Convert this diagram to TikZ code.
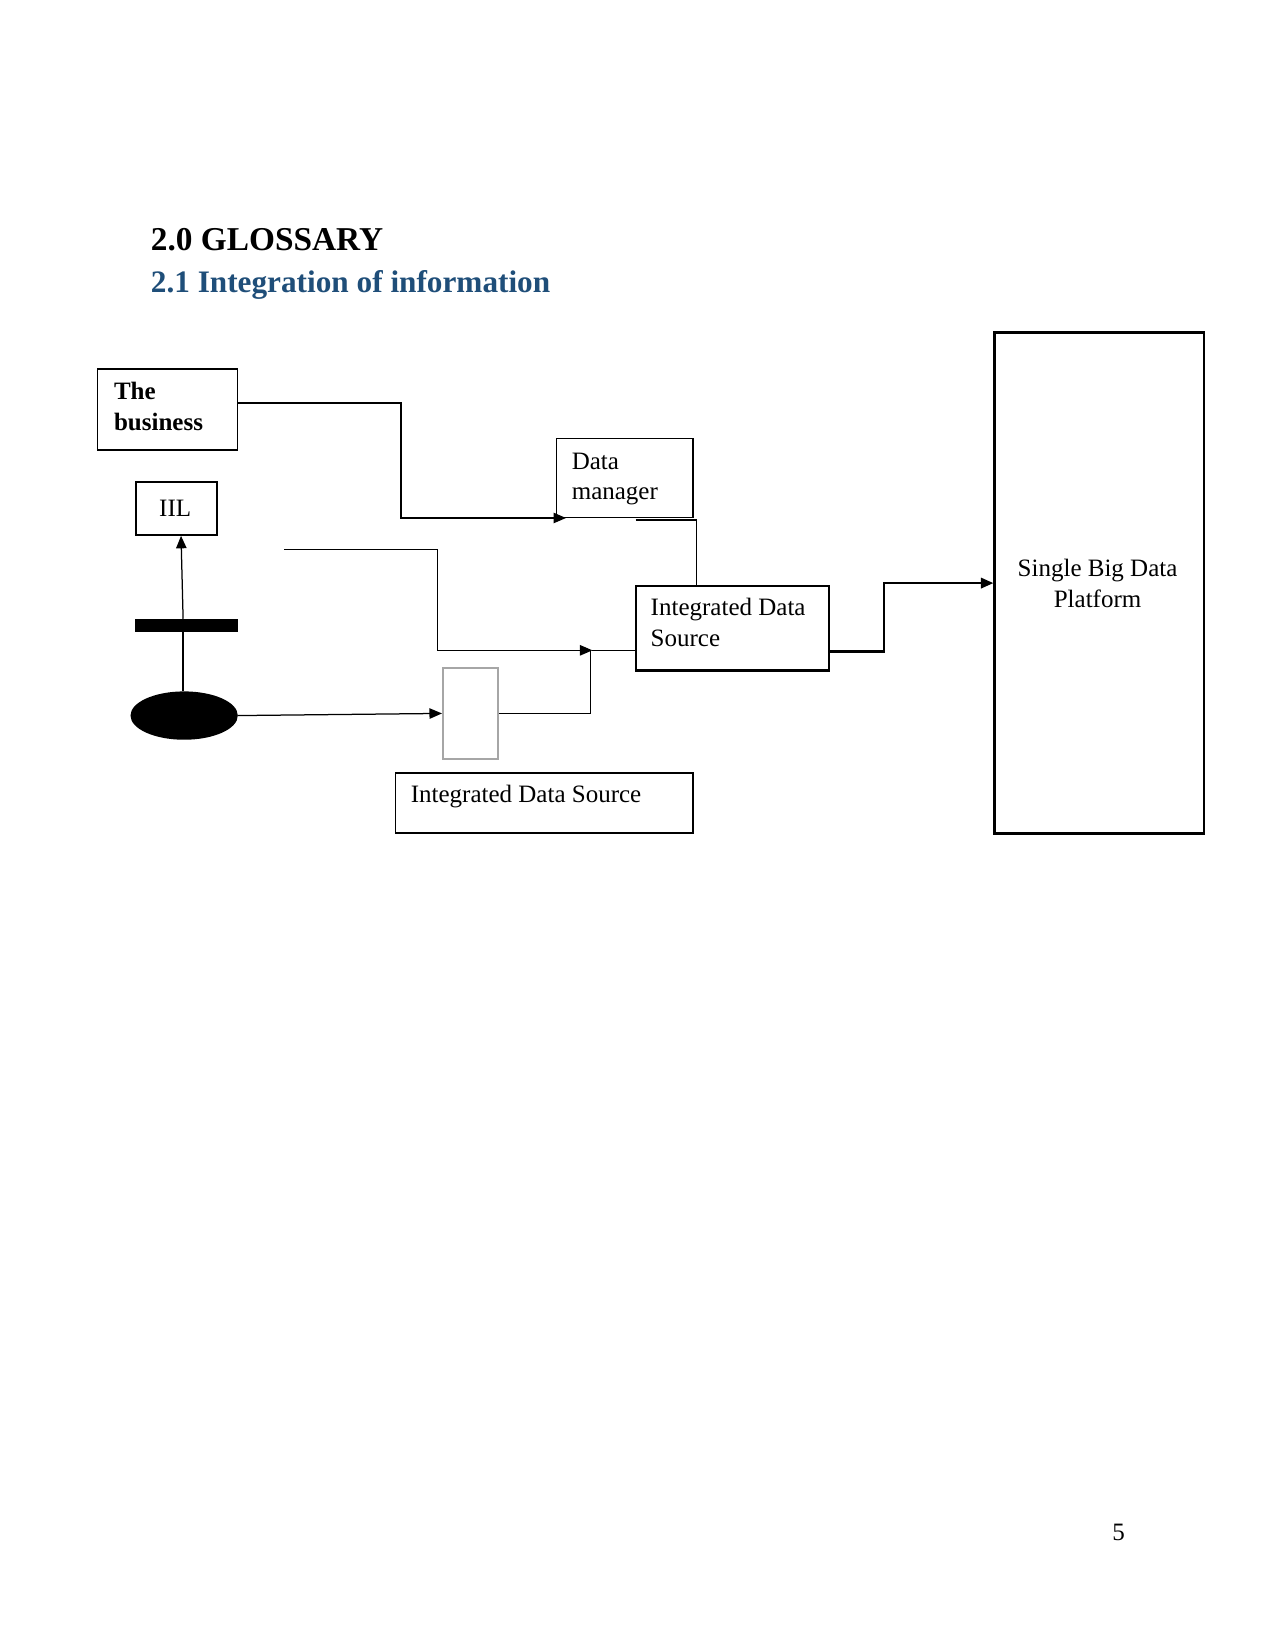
\documentclass[tikz,border=0pt]{standalone}
\usepackage{fontspec}
\setmainfont{Liberation Serif}
\usetikzlibrary{arrows.meta,shapes.geometric}
\definecolor{headblue}{RGB}{31,78,121}
\begin{document}
\begin{tikzpicture}[x=0.505pt,y=-0.505pt,
  box/.style={draw, line width=0.6pt, inner sep=0pt, anchor=north west},
  thickbox/.style={box, line width=1.1pt},
  conn/.style={line width=0.6pt},
  tip/.style={-{Triangle[length=6pt,width=5pt]}},
  lbl/.style={anchor=base west, inner sep=0pt, font=\fontsize{12}{14}\selectfont},
  clbl/.style={anchor=base, inner sep=0pt, font=\fontsize{12}{14}\selectfont}]
\useasboundingbox[fill=white] (0,0) rectangle (1212,1568);

% headings
\node[anchor=base west, inner sep=0pt, font=\bfseries\fontsize{16}{19}\selectfont] (h1) at (143,238) {2.0 GLOSSARY};
\node[anchor=base west, inner sep=0pt, text=headblue, font=\bfseries\fontsize{15}{18}\selectfont] (h2) at (143,278) {2.1 Integration of information};

% boxes
\node[box, minimum width=67.2pt, minimum height=38.9pt] (bus) at (92,350) {};
\node[thickbox, minimum width=38.9pt, minimum height=25.25pt] (iil) at (128,457) {};
\node[box, minimum width=65.65pt, minimum height=37.9pt] (dm) at (528,416) {};
\node[thickbox, minimum width=92.9pt, minimum height=40.4pt] (ids) at (603,556) {};
\node[thickbox, minimum width=100.5pt, minimum height=240.4pt] (sbdp) at (944,315) {};
\node[box, minimum width=142.9pt, minimum height=28.8pt] (idsb) at (375,734) {};
\node[box, draw=gray!70, line width=1pt, minimum width=26.3pt, minimum height=43.4pt] (grey) at (420,634) {};
\node[fill=black, inner sep=0pt, minimum width=49.5pt, minimum height=6.1pt, anchor=north west] (bar) at (128,588) {};
\node[ellipse, fill=black, inner sep=0pt, minimum width=51.5pt, minimum height=23.2pt] (ell) at (175,680) {};

% labels
\node[lbl, font=\bfseries\fontsize{12}{14}\selectfont] (busa) at (108,380) {The};
\node[lbl, font=\bfseries\fontsize{12}{14}\selectfont] (busb) at (108,409) {business};
\node[clbl] (iilt) at (166.5,491) {IIL};
\node[lbl] (dma) at (543,446) {Data};
\node[lbl] (dmb) at (543,475) {manager};
\node[lbl] (idsa) at (618,585) {Integrated Data};
\node[lbl] (idsbt) at (618,614) {Source};
\node[clbl] (sba) at (1043,548) {Single Big Data};
\node[clbl] (sbb) at (1043,577) {Platform};
\node[lbl] (idsbl) at (390,763) {Integrated Data Source};
\node[clbl] (pg) at (1063,1464) {5};

% connectors
\coordinate (b1) at (381,383);
\draw[conn, tip] (bus.north east) ++(0,33) -- (b1) |- ([xshift=5pt]dm.south west);
\draw[conn] ([xshift=-27.8pt,yshift=-1pt]dm.south east) -| ([xshift=29.8pt]ids.north west);
\coordinate (s) at (270,522);
\coordinate (j) at (563,618);
\draw[conn, tip] (s) -| (416,618) -- (j);
\draw[conn] (j) -- (j -| ids.west);
\draw[conn, tip] (ell.east) -- (grey.west);
\draw[conn] (grey.east) -| ([xshift=-1pt]j);
\draw[conn] ([xshift=-0.5pt]ell.north) -- ([xshift=-0.5pt]ell.north |- bar.south);
\draw[conn, tip] ([xshift=-0.5pt]ell.north |- bar.north) -- ([xshift=-1.5pt]ell.north |- iil.south);
\draw[line width=1.1pt, tip] ([yshift=-11.1pt]ids.east) -- ++(51,0) |- (sbdp.west);
\end{tikzpicture}
\end{document}
